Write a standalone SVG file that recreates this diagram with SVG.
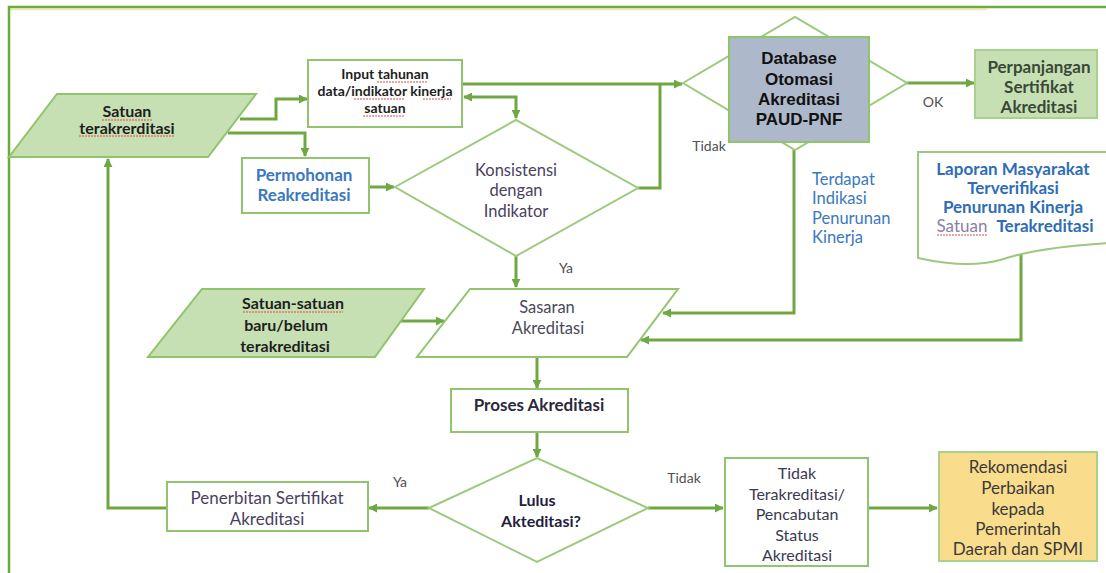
<svg xmlns="http://www.w3.org/2000/svg" width="1106" height="573" viewBox="0 0 1106 573">
<defs>
<marker id="ah" viewBox="0 0 10 10" refX="9" refY="5" markerWidth="9" markerHeight="9" markerUnits="userSpaceOnUse" orient="auto-start-reverse"><path d="M0,0 L10,5 L0,10 z" fill="#6fa843"/></marker>
<style>
text{font-family:Lato,"Liberation Sans",sans-serif;text-anchor:middle}
.box{fill:#ffffff;stroke:#92c46e;stroke-width:2}
.gfill{fill:#c6e0b4;stroke:#8fc46a;stroke-width:2}
.dia{fill:#ffffff;stroke:#9cc97d;stroke-width:2}
.con{fill:none;stroke:#6fa843;stroke-width:3}
.arr{marker-end:url(#ah)}
.b{font-weight:bold}
.blue{fill:#3a78c0}
.dark{fill:#1e1e1e}
.pur{fill:#4b3f60}
.lbl{fill:#505050;font-size:14px}
.sq{fill:none;stroke:#e04a4a;stroke-width:1;stroke-dasharray:2 1}
.arial{font-family:"Liberation Sans",Arial,sans-serif}
</style>
</defs>
<rect width="1106" height="573" fill="#ffffff"/>
<g id="frame">
<line x1="10" y1="9.5" x2="987" y2="9.5" stroke="#f3e7a0" stroke-width="1.5"/>
<rect x="9" y="7" width="1110" height="580" fill="none" stroke="#6aab3b" stroke-width="2.5"/>
</g>

<g id="connectors">
<path class="con arr" d="M240,119 H276 V99 H307"/>
<path class="con arr" d="M228,133 H305 V156"/>
<path class="con arr" d="M369,187 H394"/>
<path class="con arr" d="M462,84 H682"/>
<path class="con" d="M638,188 H660 V84"/>
<path class="con arr" style="marker-start:url(#ah)" d="M464,97 H516 V118"/>
<path class="con arr" d="M516,256 V287"/>
<path class="con arr" d="M907,83 H974"/>
<path class="con arr" d="M794,150 V313 H663"/>
<path class="con arr" d="M1021,255 V340 H641"/>
<path class="con arr" d="M397,321 H444"/>
<path class="con arr" d="M537,357 V388"/>
<path class="con arr" d="M537,432 V457"/>
<path class="con arr" d="M429,508 H369"/>
<path class="con arr" d="M167,508 H108 V159"/>
<path class="con arr" d="M648,508 H723"/>
<path class="con arr" d="M868,508 H937"/>
<text class="lbl" x="566" y="273">Ya</text>
<text class="lbl" x="933" y="107">OK</text>
<text class="lbl" x="709" y="151">Tidak</text>
<text class="lbl" x="400" y="487">Ya</text>
<text class="lbl" x="684" y="483">Tidak</text>
</g>

<g id="satuan-terakreditasi">
<polygon class="gfill" points="57,94 256,94 208,157 9,157"/>
<text class="b dark" font-size="16" x="127" y="117">Satuan</text>
<text class="b dark" font-size="16" x="127" y="134">terakrerditasi</text>
</g>

<g id="input-tahunan">
<rect class="box" x="308" y="60" width="154" height="67"/>
<text class="b dark" font-size="14" x="385" y="79">Input tahunan</text>
<text class="b dark" font-size="14" x="385" y="96">data/indikator kinerja</text>
<text class="b dark" font-size="14" x="385" y="113">satuan</text>
</g>

<g id="permohonan">
<rect class="box" x="242" y="158" width="127" height="55"/>
<text class="b blue" font-size="17" x="304" y="181">Permohonan</text>
<text class="b blue" font-size="17" x="304" y="201">Reakreditasi</text>
</g>

<g id="konsistensi">
<polygon class="dia" points="395,187 516,120 638,188 516,256"/>
<text class="pur" font-size="16.5" x="516" y="176">Konsistensi</text>
<text class="pur" font-size="16.5" x="516" y="196">dengan</text>
<text class="pur" font-size="16.5" x="516" y="217">Indikator</text>
</g>

<g id="database">
<polygon class="dia" points="683,83 795,17 907,83 795,150"/>
<rect x="729" y="37" width="140" height="105" fill="#adb9ca" stroke="#8fc46a" stroke-width="2"/>
<text class="b arial" fill="#111" font-size="17" x="799" y="64">Database</text>
<text class="b arial" fill="#111" font-size="17" x="799" y="85">Otomasi</text>
<text class="b arial" fill="#111" font-size="17" x="799" y="105">Akreditasi</text>
<text class="b arial" fill="#111" font-size="17" x="799" y="125">PAUD-PNF</text>
</g>

<g id="perpanjangan">
<rect x="975" y="50" width="122" height="68" fill="#c6e0b4" stroke="#a9d18e" stroke-width="2"/>
<text class="b" fill="#3a4838" font-size="17" x="1039" y="73">Perpanjangan</text>
<text class="b" fill="#3a4838" font-size="17" x="1039" y="93">Sertifikat</text>
<text class="b" fill="#3a4838" font-size="17" x="1039" y="113">Akreditasi</text>
</g>

<g id="terdapat-indikasi">
<text class="blue" font-size="16.5" style="text-anchor:start" x="812" y="185">Terdapat</text>
<text class="blue" font-size="16.5" style="text-anchor:start" x="812" y="204">Indikasi</text>
<text class="blue" font-size="16.5" style="text-anchor:start" x="812" y="224">Penurunan</text>
<text class="blue" font-size="16.5" style="text-anchor:start" x="812" y="243">Kinerja</text>
</g>

<g id="laporan">
<path d="M918,152 H1110 V243 C1075,245 1030,250 1000,260 C975,267 945,264 918,258 Z" fill="#ffffff" stroke="#9cc97d" stroke-width="2"/>
<text class="b" fill="#2e6db5" font-size="17" x="1013" y="175">Laporan Masyarakat</text>
<text class="b" fill="#2e6db5" font-size="17" x="1013" y="194">Terverifikasi</text>
<text class="b" fill="#2e6db5" font-size="17" x="1013" y="213">Penurunan Kinerja</text>
<text font-size="17" x="1015" y="232"><tspan fill="#8a7fa6">Satuan</tspan><tspan class="b" fill="#2e6db5" dx="9">Terakreditasi</tspan></text>
</g>

<g id="satuan-baru">
<polygon class="gfill" points="202,289 424,289 375,357 148,357"/>
<text class="b dark" font-size="16" x="293" y="309">Satuan-satuan</text>
<text class="b dark" font-size="16" x="286" y="331">baru/belum</text>
<text class="b dark" font-size="16" x="285" y="352">terakreditasi</text>
</g>

<g id="sasaran">
<polygon class="box" points="470,289 678,289 627,357 417,357"/>
<text fill="#4a4a5a" font-size="16.5" x="547" y="313">Sasaran</text>
<text fill="#4a4a5a" font-size="16.5" x="548" y="334">Akreditasi</text>
</g>

<g id="proses">
<rect class="box" x="451" y="389" width="177" height="43"/>
<text class="b" fill="#2a2a3a" font-size="17" x="539" y="411">Proses Akreditasi</text>
</g>

<g id="lulus">
<polygon class="dia" points="429,508 537,458 648,508 537,562"/>
<text class="b" fill="#1f2040" font-size="16" x="537" y="506">Lulus</text>
<text class="b" fill="#1f2040" font-size="16" x="541" y="527">Akteditasi?</text>
</g>

<g id="penerbitan">
<rect class="box" x="167" y="482" width="201" height="49"/>
<text class="pur" font-size="17" x="267" y="504">Penerbitan Sertifikat</text>
<text class="pur" font-size="17" x="267" y="525">Akreditasi</text>
</g>

<g id="tidak-terakreditasi">
<rect class="box" x="725" y="458" width="143" height="108"/>
<text fill="#3a3a50" font-size="16" x="797" y="479">Tidak</text>
<text fill="#3a3a50" font-size="16" x="797" y="499.5">Terakreditasi/</text>
<text fill="#3a3a50" font-size="16" x="797" y="520">Pencabutan</text>
<text fill="#3a3a50" font-size="16" x="797" y="540.5">Status</text>
<text fill="#3a3a50" font-size="16" x="797" y="561">Akreditasi</text>
</g>

<g id="rekomendasi">
<rect x="939" y="452" width="158" height="109" fill="#f9dc8c" stroke="#a9d18e" stroke-width="2"/>
<text fill="#3a3a3a" font-size="17" x="1018" y="473">Rekomendasi</text>
<text fill="#3a3a3a" font-size="17" x="1018" y="494">Perbaikan</text>
<text fill="#3a3a3a" font-size="17" x="1018" y="515">kepada</text>
<text fill="#3a3a3a" font-size="17" x="1018" y="535">Pemerintah</text>
<text fill="#3a3a3a" font-size="17" x="1018" y="555">Daerah dan SPMI</text>
</g>

<g id="spellcheck">
<path class="sq" d="M102,120 H152 M79,136 H175 M377,82 H427 M354,99 H405 M423,99 H451 M363,116 H404 M243,312 H343 M937,235 H987"/>
</g>
</svg>
